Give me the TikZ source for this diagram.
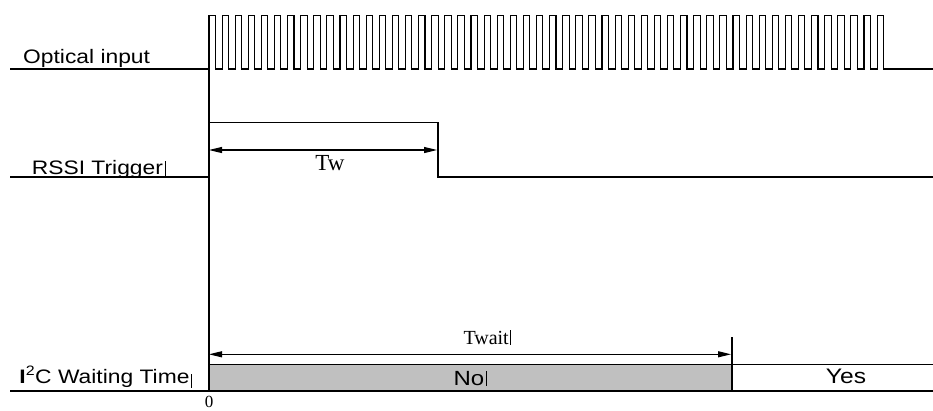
\documentclass[tikz,border=0pt]{standalone}
\usepackage{fontspec}
\setmainfont{Liberation Serif}
\newfontfamily\labfont[FakeStretch=1.17]{Liberation Sans}
\usetikzlibrary{arrows.meta}
\begin{document}
\begin{tikzpicture}[x=1pt,y=-1pt,
  wave/.style={line width=1.4pt,line join=miter},
  pulse/.style={line width=1.1pt,line join=miter},
  dim/.style={line width=1.2pt,{Triangle[length=13pt,width=6pt]}-{Triangle[length=13pt,width=6pt]}},
  siglab/.style={inner sep=0pt,anchor=base west,font=\labfont\fontsize{19.5}{21}\selectfont},
  boxlab/.style={inner sep=0pt,anchor=base,font=\labfont\fontsize{21}{23}\selectfont},
  timelab/.style={inner sep=0pt,font=\fontsize{20}{22}\selectfont},
  cursor/.style={line width=0.6pt}]
\useasboundingbox (0,0) rectangle (933,410);
% coordinates
\coordinate (t0top) at (209,15.5);
\coordinate (t0bot) at (209,391);
\coordinate (twA) at (209,150);
\coordinate (twB) at (437,150);
\coordinate (twaitA) at (209,354.3);
\coordinate (twaitB) at (731,354.3);
\coordinate (tendtop) at (732,337);
\coordinate (tendbot) at (732,391);
% labels
\node[siglab] (opt) at (23,63.3) {Optical input};
\node[siglab] (rssi) at (31.7,174) {RSSI Trigger};
\node[siglab] (i2c) at (19.3,383.3) {{\bfseries I}\textsuperscript{2}C Waiting Time};
% optical input waveform
\draw[pulse] (10,69) foreach \i in {0,...,51} {
  -- ({209+13.1*\i},69) -- ({209+13.1*\i},15.5) -- ({215.4+13.1*\i},15.5) -- ({215.4+13.1*\i},69) } -- (933,69);
% RSSI trigger waveform
\draw[wave] (10,177) -- (209,177) -- (209,122.7) -- (438,122.7) -- (438,177) -- (933,177);
% I2C waiting time band
\draw[wave,fill={rgb,255:red,192;green,192;blue,192}] (209,364.3) rectangle (732,391);
\draw[wave] (732,364.3) -- (933,364.3);
\draw[wave] (10,391) -- (933,391);
\draw[wave] (tendtop) -- (tendbot);
% time zero line
\draw[wave] (t0top) -- (t0bot);
% dimension arrows
\draw[dim] (twA) -- (twB);
\draw[dim] (twaitA) -- (twaitB);
\node[timelab,anchor=base,font=\fontsize{23}{25}\selectfont] (tw) at (330,170) {Tw};
\node[timelab,anchor=base west] (twait) at (463.3,344) {Twait};
\node[timelab,anchor=base,font=\fontsize{17}{19}\selectfont] (zero) at (209,407.5) {0};
\node[boxlab,font=\labfont\fontsize{20.5}{22}\selectfont] (no) at (469,385.7) {No};
\node[boxlab] (yes) at (846,383.3) {Yes};
% text cursor marks
\draw[cursor] (165.7,161) -- (165.7,177);
\draw[cursor] (191,374) -- (191,388);
\draw[cursor] (510,330) -- (510,345);
\draw[cursor] (486.7,371) -- (486.7,386);
\end{tikzpicture}
\end{document}
